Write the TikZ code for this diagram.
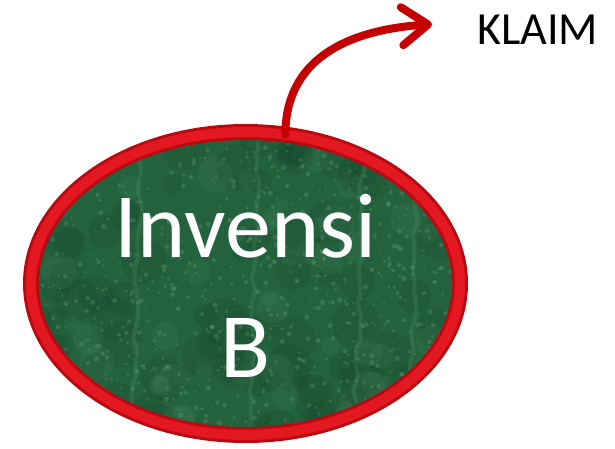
\documentclass[tikz,border=0pt]{standalone}
\usepackage{fontspec}
\setmainfont{Carlito}
\usetikzlibrary{shapes.geometric,arrows.meta,positioning,decorations.pathmorphing}

\definecolor{marble}{RGB}{36,98,62}
\definecolor{marbledark}{RGB}{14,54,30}
\definecolor{marblelight}{RGB}{125,190,150}
\definecolor{rimred}{RGB}{228,24,32}
\definecolor{rimdark}{RGB}{185,10,18}
\definecolor{arrowred}{RGB}{196,0,0}

\tikzset{
  claimtext/.style={font=\fontsize{46}{50}\selectfont, inner sep=0pt, text=black},
  inventiontext/.style={font=\fontsize{92}{110}\selectfont, inner sep=0pt, text=white},
  claimarrow/.style={draw=arrowred, line width=8pt, line cap=round,
    -{Straight Barb[length=26pt, width=38pt, round]}},
}

\begin{document}
\begin{tikzpicture}[x=1pt, y=1pt]
    \fill[white] (0,0) rectangle (615,448);
    \useasboundingbox (0,0) rectangle (615,448);

    \node[ellipse, minimum width=429pt, minimum height=303pt, outer sep=0pt,
          inner sep=0pt, fill=marble] (inv) at (245.5,164.5) {};

    % marble texture
    \begin{scope}
    \clip (inv.center) ellipse [x radius=214.5, y radius=151.5];
    \pgfmathsetseed{42}
    \foreach \i in {1,...,90} {
        \pgfmathsetmacro\px{245.5+215*rand}
        \pgfmathsetmacro\py{164.5+152*rand}
        \pgfmathsetmacro\pr{10+14*rnd}
        \fill[marbledark, opacity=0.12] (\px,\py) circle [radius=\pr];
    }
    \foreach \i in {1,...,60} {
        \pgfmathsetmacro\px{245.5+215*rand}
        \pgfmathsetmacro\py{164.5+152*rand}
        \pgfmathsetmacro\pr{6+12*rnd}
        \fill[marblelight, opacity=0.07] (\px,\py) circle [radius=\pr];
    }
    \foreach \i in {1,...,900} {
        \pgfmathsetmacro\px{245.5+215*rand}
        \pgfmathsetmacro\py{164.5+152*rand}
        \pgfmathsetmacro\pr{0.8+1.8*rnd}
        \fill[marblelight, opacity=0.22] (\px,\py) circle [radius=\pr];
    }
    \foreach \vx in {133,250,355,410} {
        \draw[marblelight, opacity=0.14, line width=4pt,
              decorate, decoration={random steps, segment length=12pt, amplitude=3pt}]
            (\vx,0) -- (\vx+8,330);
    }
    \end{scope}

    \draw[rimdark, line width=16pt] (inv.center) ellipse [x radius=214.5, y radius=151.5];
    \draw[rimred, line width=10pt] (inv.center) ellipse [x radius=214.5, y radius=151.5];

    \node[inventiontext, anchor=base] (invtxt) at ([yshift=26.5pt]inv.center) {Invensi};
    \node[inventiontext, anchor=base] (btxt) at ([yshift=-120pt]invtxt.base) {B};

    \node[claimtext, anchor=base west] (klaim) at (477,403) {KLAIM};
    \coordinate (tip) at ([xshift=-45pt, yshift=6pt]klaim.west);

    \draw[claimarrow] (inv.75) .. controls +(0,74) and (345,418) .. (tip);
\end{tikzpicture}
\end{document}
